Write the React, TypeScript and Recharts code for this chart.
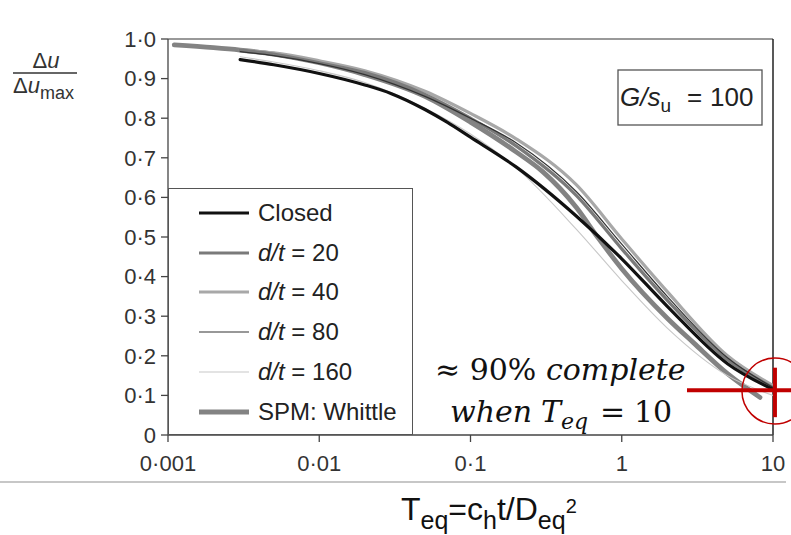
import React from 'react';
import { LineChart, Line, XAxis, YAxis, ReferenceLine, ReferenceDot, Legend } from 'recharts';

const W = 791;
const H = 535;

// Time factor T (log axis) and normalised excess pore pressure values
const closedT = [0.003, 0.005, 0.01, 0.02, 0.03, 0.05, 0.07, 0.1, 0.2, 0.5, 1, 2, 5, 10];
const closedV = [0.948, 0.935, 0.913, 0.884, 0.862, 0.822, 0.79, 0.752, 0.677, 0.553, 0.445, 0.325, 0.18, 0.115];

const dt20T = [0.003, 0.005, 0.01, 0.02, 0.05, 0.1, 0.2, 0.5, 1, 2, 5, 10];
const dt20V = [0.972, 0.962, 0.94, 0.915, 0.86, 0.8, 0.73, 0.605, 0.47, 0.34, 0.19, 0.12];

const dt40T = [0.003, 0.005, 0.01, 0.02, 0.05, 0.1, 0.2, 0.5, 1, 2, 5, 10];
const dt40V = [0.972, 0.965, 0.945, 0.92, 0.868, 0.812, 0.748, 0.632, 0.495, 0.362, 0.2, 0.125];

const dt80T = [0.003, 0.005, 0.01, 0.02, 0.05, 0.1, 0.2, 0.5, 1, 2, 5, 10];
const dt80V = [0.968, 0.958, 0.938, 0.91, 0.855, 0.8, 0.738, 0.615, 0.482, 0.35, 0.195, 0.12];

const dt160T = [0.003, 0.005, 0.01, 0.02, 0.05, 0.1, 0.2, 0.5, 1, 2, 5, 10];
const dt160V = [0.955, 0.942, 0.92, 0.89, 0.825, 0.76, 0.675, 0.52, 0.39, 0.27, 0.15, 0.1];

const spmT = [0.0011, 0.002, 0.003, 0.005, 0.01, 0.02, 0.05, 0.1, 0.2, 0.3, 0.5, 0.7, 1, 2, 3, 5, 8.2];
const spmV = [0.985, 0.978, 0.972, 0.962, 0.94, 0.91, 0.855, 0.79, 0.715, 0.665, 0.575, 0.497, 0.42, 0.295, 0.232, 0.155, 0.095];

const xTicks = [0.001, 0.01, 0.1, 1, 10];
const xTickLabels = ['0·001', '0·01', '0·1', '1', '10'];
const yTicks = [0, 0.1, 0.2, 0.3, 0.4, 0.5, 0.6, 0.7, 0.8, 0.9, 1.0];
const yTickLabels = ['0', '0·1', '0·2', '0·3', '0·4', '0·5', '0·6', '0·7', '0·8', '0·9', '1·0'];

// annotation: red crosshair at T = 10
const crossHT = [2.7, 13.2];
const crossHV = 0.113;
const crossVT = 10.3;
const crossVV = [0.045, 0.17];
const circleT = 10.3;
const circleV = 0.111;

const pairs = (ts: number[], vs: number[]) => ts.map((t, i) => ({ t, v: vs[i] }));

type S = { key: string; name: string; data: { t: number; v: number }[]; color: string; width: number; italic: boolean; label: string };

const series: S[] = [
  { key: 'closed', name: 'Closed', data: pairs(closedT, closedV), color: '#111111', width: 3.2, italic: false, label: '' },
  { key: 'dt20', name: 'd/t = 20', data: pairs(dt20T, dt20V), color: '#7a7a7a', width: 3.2, italic: true, label: '20' },
  { key: 'dt40', name: 'd/t = 40', data: pairs(dt40T, dt40V), color: '#a8a8a8', width: 3.2, italic: true, label: '40' },
  { key: 'dt80', name: 'd/t = 80', data: pairs(dt80T, dt80V), color: '#333333', width: 1.2, italic: true, label: '80' },
  { key: 'dt160', name: 'd/t = 160', data: pairs(dt160T, dt160V), color: '#c8c8c8', width: 1.1, italic: true, label: '160' },
  { key: 'spm', name: 'SPM: Whittle', data: pairs(spmT, spmV), color: '#838383', width: 4.8, italic: false, label: '' },
];

const drawOrder = ['spm', 'dt40', 'dt20', 'dt160', 'dt80', 'closed'];

const SANS = '"Liberation Sans", Arial, Helvetica, sans-serif';
const SERIF = '"DejaVu Serif", serif';

const fmtX = (v: number) => {
  const i = xTicks.findIndex((t) => Math.abs(t - v) < 1e-9);
  return i >= 0 ? xTickLabels[i] : String(v);
};
const fmtY = (v: number) => {
  const i = yTicks.findIndex((t) => Math.abs(t - v) < 1e-9);
  return i >= 0 ? yTickLabels[i] : String(v);
};

const LegendBox = () => (
  <div
    style={{
      position: 'relative',
      width: 245,
      height: 247,
      boxSizing: 'border-box',
      border: '1px solid #555',
      background: '#fff',
      fontFamily: SANS,
      fontSize: 24,
      color: '#222',
    }}
  >
    {series.map((s, i) => (
      <div key={s.key} style={{ position: 'absolute', left: 0, top: 24 + i * 39.7 - 14, height: 28, width: 243 }}>
        <svg width={60} height={28} style={{ position: 'absolute', left: 29, top: 0 }}>
          <line x1={1} x2={51} y1={14} y2={14} stroke={s.color} strokeWidth={s.width} />
        </svg>
        <span style={{ position: 'absolute', left: 89, top: 0, lineHeight: '28px', whiteSpace: 'nowrap' }}>
          {s.italic ? (
            <>
              <i>d/t</i> = {s.label}
            </>
          ) : (
            s.name
          )}
        </span>
      </div>
    ))}
  </div>
);

export default function App() {
  return (
    <div style={{ position: 'absolute', left: 0, top: 0, width: W, height: H, background: '#fff', overflow: 'hidden' }}>
      <LineChart width={W} height={H} margin={{ top: 39, right: 18, left: 108, bottom: 55 }}>
        <XAxis
          dataKey="t"
          type="number"
          scale="log"
          domain={[0.001, 10]}
          allowDataOverflow
          ticks={xTicks}
          tickFormatter={fmtX}
          tick={{ fontSize: 22, fill: '#333', fontFamily: SANS }}
          tickSize={7}
          tickMargin={13}
          height={45}
          axisLine={{ stroke: '#444', strokeWidth: 1.3 }}
          tickLine={{ stroke: '#444', strokeWidth: 1.3 }}
        />
        <YAxis
          type="number"
          domain={[0, 1]}
          ticks={yTicks}
          tickFormatter={fmtY}
          tick={{ fontSize: 22, fill: '#333', fontFamily: SANS }}
          tickSize={7}
          tickMargin={5}
          width={60}
          axisLine={{ stroke: '#444', strokeWidth: 1.3 }}
          tickLine={{ stroke: '#444', strokeWidth: 1.3 }}
        />
        <ReferenceLine y={1} stroke="#777" strokeWidth={1.3} />
        <ReferenceLine x={10} stroke="#222" strokeWidth={1.5} />
        {drawOrder.map((k) => {
          const s = series.find((x) => x.key === k)!;
          return (
            <Line
              key={s.key}
              data={s.data}
              dataKey="v"
              name={s.name}
              type="monotone"
              stroke={s.color}
              strokeWidth={s.width}
              dot={false}
              activeDot={false}
              isAnimationActive={false}
              strokeLinecap="round"
            />
          );
        })}
        <ReferenceLine
          segment={[
            { x: crossHT[0], y: crossHV },
            { x: crossHT[1], y: crossHV },
          ]}
          stroke="#c00000"
          strokeWidth={4}
          ifOverflow="visible"
        />
        <ReferenceLine
          segment={[
            { x: crossVT, y: crossVV[0] },
            { x: crossVT, y: crossVV[1] },
          ]}
          stroke="#c00000"
          strokeWidth={4}
          ifOverflow="visible"
        />
        <ReferenceDot x={circleT} y={circleV} r={33} fill="none" stroke="#c00000" strokeWidth={1.5} ifOverflow="visible" />
        <Legend
          layout="vertical"
          align="center"
          verticalAlign="middle"
          content={() => <LegendBox />}
          wrapperStyle={{ left: 168, top: 188, width: 245, height: 247, margin: 0, padding: 0 }}
        />
      </LineChart>

      <svg width={W} height={H} style={{ position: 'absolute', left: 0, top: 0, pointerEvents: 'none' }}>
        {/* y-axis label */}
        <text x={46} y={68} textAnchor="middle" fontSize={22} fontFamily={SANS} fill="#333">
          Δ<tspan fontStyle="italic">u</tspan>
        </text>
        <line x1={13} x2={77} y1={73} y2={73} stroke="#333" strokeWidth={1.5} />
        <text x={13} y={93} fontSize={22} fontFamily={SANS} fill="#333">
          Δ<tspan fontStyle="italic">u</tspan>
          <tspan dy={6} fontSize={18}>max</tspan>
        </text>

        {/* G/su box */}
        <rect x={618} y={70} width={144} height={55} fill="#fff" stroke="#555" strokeWidth={1.3} />
        <text x={620} y={106} fontSize={26} fontFamily={SANS} fill="#222">
          <tspan fontStyle="italic">G/s</tspan>
          <tspan dy={6} fontSize={19}>u</tspan>
          <tspan x={687} dy={-6}>=</tspan>
          <tspan x={710}>100</tspan>
        </text>

        {/* annotation */}
        <text x={435} y={380} fontSize={30} fontFamily={SERIF} fill="#111">
          ≈ 90% <tspan fontStyle="italic">complete</tspan>
        </text>
        <text x={450} y={422} fontSize={30} fontFamily={SERIF} fill="#111">
          <tspan fontStyle="italic">when</tspan>
          <tspan x={541} fontStyle="italic">T</tspan>
          <tspan dy={7} fontSize={22} fontStyle="italic">eq</tspan>
          <tspan x={600} dy={-7}>=</tspan>
          <tspan x={634}>10</tspan>
        </text>

        {/* separator line */}
        <line x1={0} x2={786} y1={482} y2={482} stroke="#b5b5b5" strokeWidth={1.3} />

        {/* x-axis title */}
        <text x={401} y={520} fontSize={32} fontFamily={SANS} fill="#111">
          T<tspan dy={9} fontSize={25}>eq</tspan>
          <tspan dy={-9}>=c</tspan>
          <tspan dy={9} fontSize={25}>h</tspan>
          <tspan dy={-9}>t/D</tspan>
          <tspan dy={9} fontSize={25}>eq</tspan>
          <tspan dy={-16} fontSize={20}>2</tspan>
        </text>
      </svg>
    </div>
  );
}
